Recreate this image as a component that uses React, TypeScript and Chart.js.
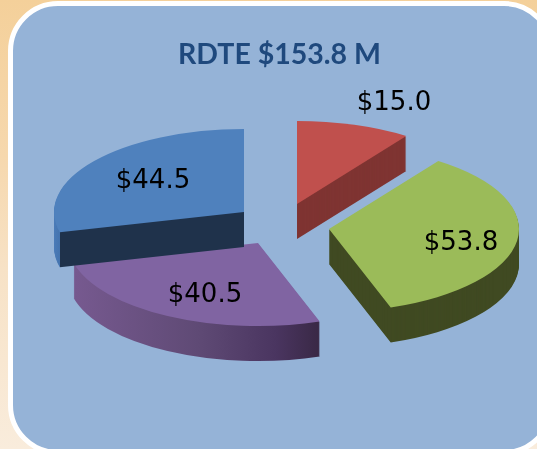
import React, { useEffect, useRef } from "react";
import { Chart, registerables } from "chart.js";

Chart.register(...registerables);

const categories = ["Red", "Green", "Purple", "Blue"];
const values = [15.0, 53.8, 40.5, 44.5];
const chartTitle = "RDTE $153.8 M";
const topColors = ["#c0504d", "#9bbb59", "#8064a2", "#4f81bd"];

// Layout of the tilted, exploded pie
const PIE = { cx: 281.5, cy: 226, rx: 190, ry: 83, depth: 35 };
const SHIFT = [[15.5, -22], [47.5, 3], [-23.5, 17], [-37.5, -14]];
const DRAW_ORDER = [2, 3, 0, 1];
const LABEL_POS = [[394, 103], [461, 243], [205, 295], [153, 181]];

function arcOptions(fill: any) {
  return {
    backgroundColor: fill, borderColor: fill, borderWidth: 0, borderAlign: "center",
    borderJoinStyle: "round", borderRadius: 0, offset: 0, spacing: 0, circular: true,
    borderDash: [], borderDashOffset: 0,
  };
}

function wallFill(ctx: CanvasRenderingContext2D, i: number, el: any, sx: number) {
  const ax = PIE.cx + SHIFT[i][0];
  const toLocal = (px: number) => el.x + (px - ax) / sx;
  const grad = (x0: number, x1: number, stops: [number, string][]) => {
    const g = ctx.createLinearGradient(toLocal(x0), 0, toLocal(x1), 0);
    stops.forEach(([p, c]) => g.addColorStop(p, c));
    return g;
  };
  if (i === 2) return grad(76, 320, [[0, "#76598f"], [0.5, "#5f4a75"], [0.82, "#4a3560"], [1, "#392845"]]);
  if (i === 3) return grad(54, 244, [[0, "#4a7bb8"], [0.032, "#4473ae"], [0.033, "#1f324b"], [1, "#1f324b"]]);
  if (i === 1) return "#404a22";
  return "#7f3432";
}

const pie3d = {
  id: "pie3d",
  beforeDatasetsDraw(chart: any) {
    const ctx: CanvasRenderingContext2D = chart.ctx;
    const arcs = chart.getDatasetMeta(0).data;
    const R = arcs[0].outerRadius;
    const sx = PIE.rx / R;
    const sy = PIE.ry / R;
    DRAW_ORDER.forEach((i) => {
      const el = arcs[i];
      const top = el.options;
      const place = (d: number) => {
        ctx.save();
        ctx.translate(PIE.cx + SHIFT[i][0], PIE.cy + SHIFT[i][1] + d);
        ctx.scale(sx, sy);
        ctx.translate(-el.x, -el.y);
      };
      el.options = arcOptions(wallFill(ctx, i, el, sx));
      for (let d = PIE.depth; d > 0; d -= 1) {
        place(d);
        el.draw(ctx);
        ctx.restore();
      }
      el.options = arcOptions(top.backgroundColor);
      place(0);
      el.draw(ctx);
      ctx.restore();
      el.options = top;
    });
    ctx.save();
    ctx.font = "26px 'DejaVu Sans'";
    ctx.fillStyle = "#000";
    ctx.textAlign = "center";
    ctx.textBaseline = "middle";
    values.forEach((v, i) => ctx.fillText(`$${v.toFixed(1)}`, LABEL_POS[i][0], LABEL_POS[i][1]));
    ctx.restore();
    return false;
  },
};

export default function App() {
  const ref = useRef<HTMLCanvasElement>(null);
  useEffect(() => {
    const chart = new Chart(ref.current!, {
      type: "pie",
      data: {
        labels: categories,
        datasets: [{ data: values, backgroundColor: topColors, borderWidth: 0 }],
      },
      options: {
        animation: false,
        responsive: false,
        layout: { padding: { left: 22 } },
        plugins: {
          legend: { display: false },
          tooltip: { enabled: false },
          title: {
            display: true,
            text: chartTitle,
            color: "#1f497d",
            font: { family: "Lato", weight: "bold", size: 28.5 },
            padding: { top: 38, bottom: 10 },
          },
        },
      },
      plugins: [pie3d as any],
    });
    return () => chart.destroy();
  }, []);
  return (
    <div style={{
      position: "fixed", inset: 0, overflow: "hidden",
      background: "linear-gradient(180deg,#f4d09a 0%,#f6d8ae 35%,#f7e2c6 60%,#f9ecdc 100%)",
    }}>
      <div style={{
        position: "absolute", left: 8, top: 1, width: 536, height: 444, boxSizing: "content-box",
        background: "#95b3d7", border: "5px solid #fff", borderRadius: 50,
      }} />
      <canvas ref={ref} width={537} height={449} style={{ position: "absolute", left: 0, top: 0, display: "block" }} />
    </div>
  );
}
